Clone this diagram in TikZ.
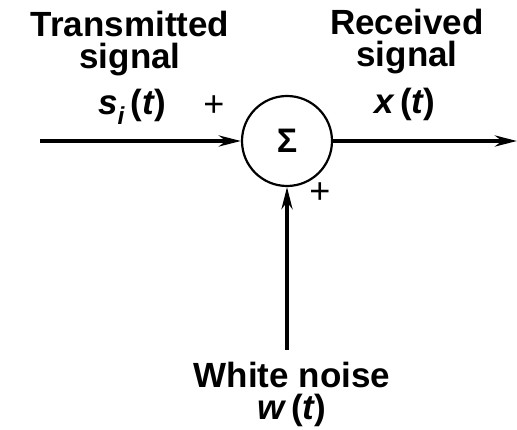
\documentclass[tikz,border=0pt]{standalone}
\usepackage{fontspec}
\setmainfont{Liberation Sans}
\usetikzlibrary{arrows.meta}
\begin{document}
\begin{tikzpicture}[x=1pt,y=-1pt,
  lbl/.style={font=\fontsize{35}{38}\selectfont\bfseries, inner sep=0pt, anchor=base},
  pls/.style={font=\fontsize{36}{38}\selectfont, inner sep=0pt, anchor=center},
  sig/.style={line width=4pt, -{Stealth[length=22pt,width=11pt]}},
  sumnode/.style={circle, draw, line width=2.2pt, minimum size=90pt, inner sep=0pt, font=\fontsize{34}{38}\selectfont\bfseries}]
\useasboundingbox (0,0) rectangle (517,430);
\node[sumnode] (sum) at (287,141) {Σ};
\coordinate (in) at (40,141);
\coordinate (out) at (517,141);
\coordinate (noise) at (287,350);
\draw[sig] (in) -- (sum.west);
\draw[sig] (sum.east) -- (out);
\draw[sig] (noise) -- (sum.south);
\node[lbl] (t1) at (130,37) {Transmitted};
\node[lbl] (t2) at (130,69) {signal};
\node[lbl] (t3) at (132,115) {\itshape s\textsubscript{i}\,\upshape(\itshape t\upshape)};
\node[pls] (p1) at (214,106) {+};
\node[lbl] (r1) at (407,35) {Received};
\node[lbl] (r2) at (407,67) {signal};
\node[lbl] (r3) at (405,114) {\itshape x\,\upshape(\itshape t\upshape)};
\node[pls] (p2) at (320,193) {+};
\node[lbl] (w1) at (292,388) {White noise};
\node[lbl] (w2) at (292,420) {\itshape w\,\upshape(\itshape t\upshape)};
\end{tikzpicture}
\end{document}
